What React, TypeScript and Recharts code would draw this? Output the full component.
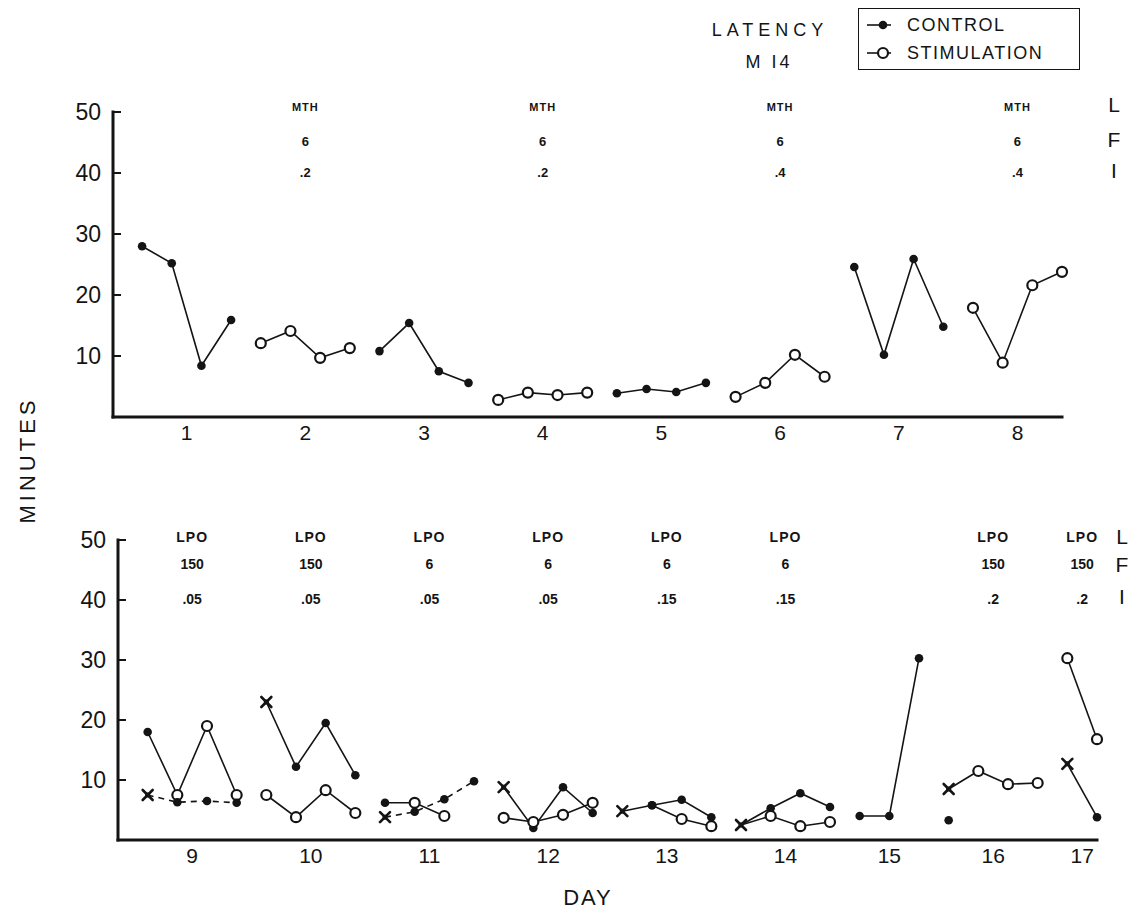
import React from "react";
import { LineChart, Line, XAxis, YAxis } from "recharts";

const INK = "#141414";
const SANS = "'Liberation Sans', Arial, sans-serif";
const WIDTH = 1135;

// ---- upper panel: MTH stimulation, four sessions per day ----
const TOP_DAYS = [1, 2, 3, 4, 5, 6, 7, 8];
const TOP_SESSIONS = [4, 4, 4, 4, 4, 4, 4, 4];
const TOP_CONTROL = [
  28, 25.2, 8.4, 15.9, null, null, null, null,
  10.8, 15.4, 7.5, 5.6, null, null, null, null,
  3.9, 4.6, 4.1, 5.6, null, null, null, null,
  24.6, 10.2, 25.9, 14.8, null, null, null, null,
];
const TOP_STIM = [
  null, null, null, null, 12.1, 14.1, 9.7, 11.3,
  null, null, null, null, 2.8, 4.0, 3.6, 4.0,
  null, null, null, null, 3.3, 5.6, 10.2, 6.6,
  null, null, null, null, 17.9, 8.9, 21.6, 23.8,
];
const TOP_SITE = ["", "MTH", "", "MTH", "", "MTH", "", "MTH"];
const TOP_FREQ = ["", "6", "", "6", "", "6", "", "6"];
const TOP_INT = ["", ".2", "", ".2", "", ".4", "", ".4"];

// ---- lower panel: LPO stimulation ----
const LOW_DAYS = [9, 10, 11, 12, 13, 14, 15, 16, 17];
const LOW_SESSIONS = [4, 4, 4, 4, 4, 4, 3, 4, 2];
const LOW_SITE = ["LPO", "LPO", "LPO", "LPO", "LPO", "LPO", "", "LPO", "LPO"];
const LOW_FREQ = ["150", "150", "6", "6", "6", "6", "", "150", "150"];
const LOW_INT = [".05", ".05", ".05", ".05", ".15", ".15", "", ".2", ".2"];

// two traces per day; marks: d = control, o = stimulation, x = cross, n = none
const D9_UPPER = [18, 7.5, 19, 7.5];
const D9_LOWER = [7.5, 6.3, 6.5, 6.2];
const D10_UPPER = [23, 12.2, 19.5, 10.8];
const D10_LOWER = [7.5, 3.8, 8.3, 4.5];
const D11_UPPER = [6.2, 6.2, 4.0];
const D11_LOWER = [3.8, 4.7, 6.8, 9.8];
const D12_UPPER = [8.8, 2.0, 8.8, 4.5];
const D12_LOWER = [3.7, 3.0, 4.2, 6.2];
const D13_UPPER = [4.8, 5.8, 6.7, 3.8];
const D13_LOWER = [null, 5.8, 3.5, 2.3];
const D14_UPPER = [2.5, 5.3, 7.8, 5.5];
const D14_LOWER = [2.5, 4.0, 2.3, 3.0];
const D15_UPPER = [4.0, 4.0, 30.3];
const D16_UPPER = [8.5, 11.5, 9.3, 9.5];
const D16_LOWER = [3.3];
const D17_UPPER = [30.3, 16.8];
const D17_LOWER = [12.7, 3.8];

const LOW_TRACES = [
  { day: 9, values: D9_UPPER, marks: "dooo", dashed: false },
  { day: 9, values: D9_LOWER, marks: "xddd", dashed: true },
  { day: 10, values: D10_UPPER, marks: "xddd", dashed: false },
  { day: 10, values: D10_LOWER, marks: "oooo", dashed: false },
  { day: 11, values: D11_UPPER, marks: "doo", dashed: false },
  { day: 11, values: D11_LOWER, marks: "xddd", dashed: true },
  { day: 12, values: D12_UPPER, marks: "xddd", dashed: false },
  { day: 12, values: D12_LOWER, marks: "oooo", dashed: false },
  { day: 13, values: D13_UPPER, marks: "xddd", dashed: false },
  { day: 13, values: D13_LOWER, marks: "ndoo", dashed: false },
  { day: 14, values: D14_UPPER, marks: "xddd", dashed: false },
  { day: 14, values: D14_LOWER, marks: "nooo", dashed: false },
  { day: 15, values: D15_UPPER, marks: "ddd", dashed: false },
  { day: 16, values: D16_UPPER, marks: "xooo", dashed: false },
  { day: 16, values: D16_LOWER, marks: "d", dashed: false },
  { day: 17, values: D17_UPPER, marks: "oo", dashed: false },
  { day: 17, values: D17_LOWER, marks: "xd", dashed: false },
];

const Y_TICKS = [10, 20, 30, 40, 50];

function dayStarts(sessions: number[]) {
  let acc = 0;
  return sessions.map((n) => {
    const s = acc;
    acc += n;
    return s;
  });
}

const topStarts = dayStarts(TOP_SESSIONS);
const topCenters = topStarts.map((s, i) => s + (TOP_SESSIONS[i] - 1) / 2);
const topRows = TOP_CONTROL.map((v, i) => ({ pos: i, control: v, stim: TOP_STIM[i] }));

const lowStarts = dayStarts(LOW_SESSIONS);
const lowCenters = lowStarts.map((s, i) => s + (LOW_SESSIONS[i] - 1) / 2);
const lowTotal = LOW_SESSIONS.reduce((a, b) => a + b, 0);
const lowRows = Array.from({ length: lowTotal }, (_, pos) => {
  const row: Record<string, number | null> = { pos };
  LOW_TRACES.forEach((t, k) => {
    const start = lowStarts[LOW_DAYS.indexOf(t.day)];
    const v = t.values[pos - start];
    row[`t${k}`] = v === undefined ? null : v;
  });
  return row;
});

function Marker({ cx, cy, kind }: { cx: number; cy: number; kind: string }) {
  if (kind === "d") return <circle cx={cx} cy={cy} r={4.3} fill={INK} />;
  if (kind === "o")
    return <circle cx={cx} cy={cy} r={5} fill="#fff" stroke={INK} strokeWidth={2.2} />;
  if (kind === "x")
    return (
      <g stroke={INK} strokeWidth={2.6} strokeLinecap="round">
        <line x1={cx - 5} y1={cy - 5} x2={cx + 5} y2={cy + 5} />
        <line x1={cx - 5} y1={cy + 5} x2={cx + 5} y2={cy - 5} />
        <rect x={cx - 2.5} y={cy - 2.5} width={5} height={5} fill={INK} strokeWidth={0} />
      </g>
    );
  return null;
}

function markerDot(marks: string, start: number) {
  return (p: any) => {
    const key = `${p.dataKey}-${p.index}`;
    const kind = marks[p.index - start];
    if (p.value == null || p.cx == null || p.cy == null || !kind) return <g key={key} />;
    return (
      <g key={key}>
        <Marker cx={p.cx} cy={p.cy} kind={kind} />
      </g>
    );
  };
}

function YTick(props: any) {
  const { x, y, payload } = props;
  return (
    <g>
      <line x1={x + 12} x2={x + 20} y1={y} y2={y} stroke={INK} strokeWidth={2} />
      <text
        x={x}
        y={y}
        textAnchor="end"
        dominantBaseline="central"
        fontSize={23}
        fontFamily={SANS}
        fill={INK}
      >
        {payload.value}
      </text>
    </g>
  );
}

function NoteTick(props: any) {
  const { x, y, index, rows, offsets, sizes } = props;
  return (
    <g fontFamily={SANS} fontWeight={700} fill={INK} textAnchor="middle">
      {rows.map((r: string[], k: number) => (
        <text
          key={k}
          x={x}
          y={y + offsets[k]}
          dominantBaseline="central"
          fontSize={sizes[k]}
          letterSpacing={k === 0 ? 1 : 0}
        >
          {r[index]}
        </text>
      ))}
    </g>
  );
}

const axisStroke = { stroke: INK, strokeWidth: 3, strokeLinecap: "square" as const };

function SideLetters({ left, tops }: { left: number; tops: number[] }) {
  return (
    <>
      {["L", "F", "I"].map((c, i) => (
        <div
          key={c}
          style={{
            position: "absolute",
            left,
            top: tops[i],
            transform: "translate(-50%, -50%)",
            fontSize: 21,
            fontFamily: SANS,
            color: INK,
          }}
        >
          {c}
        </div>
      ))}
    </>
  );
}

// axis boxes: y axis 60 wide, bottom axis 40 tall, notes axis 10 tall
const Y_W = 60;
const X_H = 40;
const N_H = 10;

export default function App() {
  return (
    <div
      style={{
        position: "absolute",
        left: 0,
        top: 0,
        width: WIDTH,
        height: 916,
        background: "#fff",
        overflow: "hidden",
        fontFamily: SANS,
        color: INK,
      }}
    >
      {/* title and legend */}
      <div
        style={{
          position: "absolute",
          left: 770,
          top: 30,
          transform: "translate(-50%, -50%)",
          fontSize: 18,
          letterSpacing: 5,
          whiteSpace: "nowrap",
        }}
      >
        LATENCY
      </div>
      <div
        style={{
          position: "absolute",
          left: 769,
          top: 62,
          transform: "translate(-50%, -50%)",
          fontSize: 18,
          letterSpacing: 3,
        }}
      >
        M I4
      </div>
      <div
        style={{
          position: "absolute",
          left: 858,
          top: 8,
          width: 222,
          height: 62,
          border: `1.5px solid ${INK}`,
          boxSizing: "border-box",
        }}
      >
        {[
          { kind: "d", label: "CONTROL" },
          { kind: "o", label: "STIMULATION" },
        ].map((e, i) => (
          <div
            key={e.label}
            style={{
              position: "absolute",
              left: 4,
              top: 5 + i * 28,
              height: 22,
              display: "flex",
              alignItems: "center",
              whiteSpace: "nowrap",
            }}
          >
            <svg width={40} height={22}>
              <line x1={4} x2={28} y1={11} y2={11} stroke={INK} strokeWidth={1.6} />
              <Marker cx={20} cy={11} kind={e.kind} />
            </svg>
            <span style={{ fontSize: 18, letterSpacing: 1.5, marginLeft: 4 }}>{e.label}</span>
          </div>
        ))}
      </div>

      {/* axis titles */}
      <div
        style={{
          position: "absolute",
          left: 28,
          top: 460,
          transform: "translate(-50%, -50%) rotate(-90deg)",
          fontSize: 22,
          letterSpacing: 4,
        }}
      >
        MINUTES
      </div>
      <div
        style={{
          position: "absolute",
          left: 588,
          top: 898,
          transform: "translate(-50%, -50%)",
          fontSize: 22,
          letterSpacing: 2,
        }}
      >
        DAY
      </div>

      <SideLetters left={1114} tops={[105, 140, 171]} />
      <SideLetters left={1122} tops={[537, 565, 597]} />

      {/* upper panel: plot box x 113..1062, y 112..417 */}
      <div style={{ position: "absolute", left: 0, top: 0 }}>
        <LineChart
          width={WIDTH}
          height={460}
          data={topRows}
          margin={{ top: 112 - N_H, right: 73, bottom: 43 - X_H, left: 113 - Y_W }}
        >
          <XAxis
            dataKey="pos"
            type="number"
            domain={[-0.98, 31]}
            ticks={topCenters}
            interval={0}
            tickFormatter={(_v: number, i: number) => String(TOP_DAYS[i])}
            height={X_H}
            tickSize={0}
            tickMargin={8}
            axisLine={axisStroke}
            tickLine={false}
            tick={{ fill: INK, fontSize: 21, fontFamily: SANS }}
          />
          <XAxis
            xAxisId="notes"
            orientation="top"
            dataKey="pos"
            type="number"
            domain={[-0.98, 31]}
            ticks={topCenters}
            interval={0}
            height={N_H}
            tickSize={0}
            tickMargin={0}
            axisLine={false}
            tickLine={false}
            tick={
              <NoteTick
                rows={[TOP_SITE, TOP_FREQ, TOP_INT]}
                offsets={[-5, 29, 60]}
                sizes={[11, 13, 13]}
              />
            }
          />
          <YAxis
            type="number"
            domain={[0, 50]}
            ticks={Y_TICKS}
            interval={0}
            width={Y_W}
            tickSize={0}
            tickMargin={12}
            axisLine={axisStroke}
            tickLine={false}
            tick={<YTick />}
          />
          <Line
            dataKey="control"
            type="linear"
            stroke={INK}
            strokeWidth={1.6}
            connectNulls={false}
            dot={markerDot("d".repeat(TOP_CONTROL.length), 0)}
            activeDot={false}
            isAnimationActive={false}
          />
          <Line
            dataKey="stim"
            type="linear"
            stroke={INK}
            strokeWidth={1.6}
            connectNulls={false}
            dot={markerDot("o".repeat(TOP_STIM.length), 0)}
            activeDot={false}
            isAnimationActive={false}
          />
        </LineChart>
      </div>

      {/* lower panel: plot box x 118..1097, y 540..840 */}
      <div style={{ position: "absolute", left: 0, top: 460 }}>
        <LineChart
          width={WIDTH}
          height={456}
          data={lowRows}
          margin={{ top: 80 - N_H, right: 38, bottom: 76 - X_H, left: 118 - Y_W }}
        >
          <XAxis
            dataKey="pos"
            type="number"
            domain={[-1, 32]}
            ticks={lowCenters}
            interval={0}
            tickFormatter={(_v: number, i: number) => String(LOW_DAYS[i])}
            height={X_H}
            tickSize={0}
            tickMargin={8}
            axisLine={axisStroke}
            tickLine={false}
            tick={{ fill: INK, fontSize: 21, fontFamily: SANS }}
          />
          <XAxis
            xAxisId="notes"
            orientation="top"
            dataKey="pos"
            type="number"
            domain={[-1, 32]}
            ticks={lowCenters}
            interval={0}
            height={N_H}
            tickSize={0}
            tickMargin={0}
            axisLine={false}
            tickLine={false}
            tick={
              <NoteTick
                rows={[LOW_SITE, LOW_FREQ, LOW_INT]}
                offsets={[-3, 24, 59]}
                sizes={[14, 14, 14]}
              />
            }
          />
          <YAxis
            type="number"
            domain={[0, 50]}
            ticks={Y_TICKS}
            interval={0}
            width={Y_W}
            tickSize={0}
            tickMargin={12}
            axisLine={axisStroke}
            tickLine={false}
            tick={<YTick />}
          />
          {LOW_TRACES.map((t, k) => (
            <Line
              key={k}
              dataKey={`t${k}`}
              type="linear"
              stroke={INK}
              strokeWidth={1.6}
              strokeDasharray={t.dashed ? "6 5" : undefined}
              connectNulls={false}
              dot={markerDot(t.marks, lowStarts[LOW_DAYS.indexOf(t.day)])}
              activeDot={false}
              isAnimationActive={false}
            />
          ))}
        </LineChart>
      </div>
    </div>
  );
}
